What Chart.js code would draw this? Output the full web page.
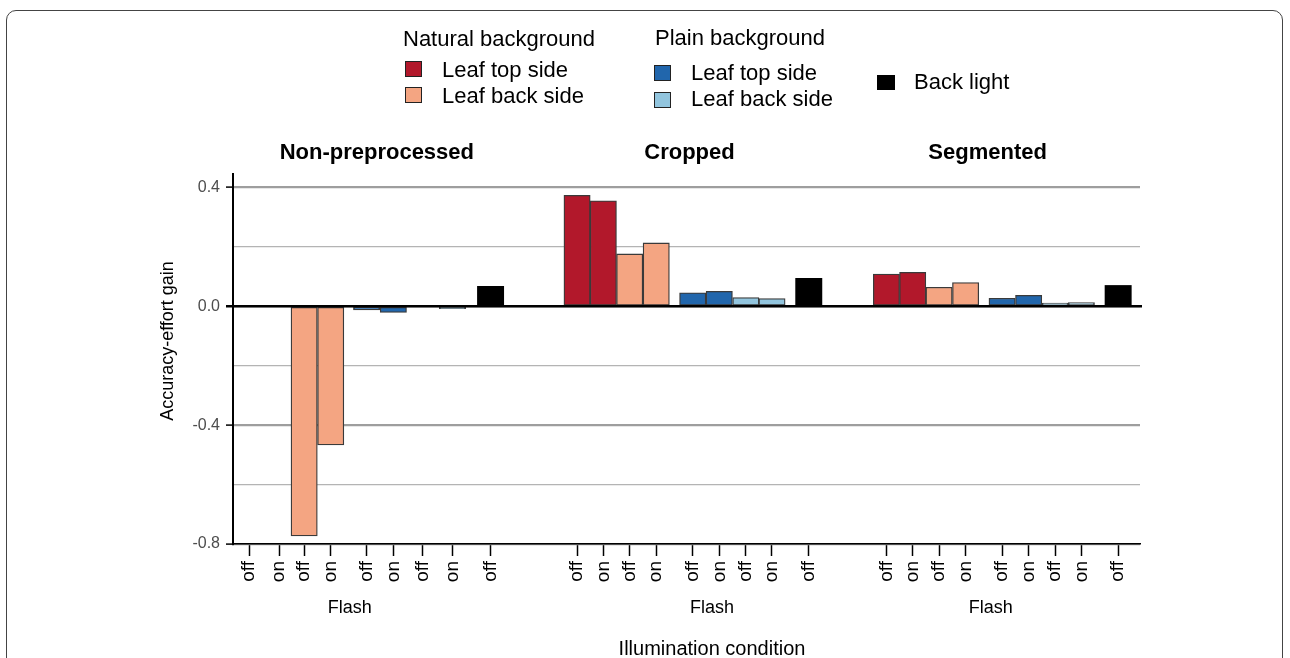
<!DOCTYPE html>
<html>
<head>
<meta charset="utf-8">
<script src="https://cdn.jsdelivr.net/npm/chart.js@4/dist/chart.umd.min.js"></script>
<style>
  html, body { margin: 0; padding: 0; background: #fff; }
  body { width: 1290px; height: 658px; overflow: hidden; position: relative;
         font-family: 'Liberation Sans', Arial, Helvetica, sans-serif; color: #000; }
  #frame { position: absolute; left: 6px; top: 10px; width: 1277px; height: 720px;
           border: 1.5px solid #444; border-radius: 10px; box-sizing: border-box; }
  #c { position: absolute; left: 0; top: 0; }
  .lg { position: absolute; font-size: 22px; line-height: 1; white-space: nowrap; }
  .sq { position: absolute; width: 15px; height: 14px; border: 1.6px solid #222; }
</style>
</head>
<body>
<div id="frame"></div>
<canvas id="c" width="1290" height="658"></canvas>
<div id="legend"></div>
<script>
// ---- data ----
const panels = ["Non-preprocessed", "Cropped", "Segmented"];
const flashLabels = ["off", "on", "off", "on", "off", "on", "off", "on", "off"];
const yTickValues = [-0.8, -0.6, -0.4, -0.2, 0.0, 0.2, 0.4];
// values per panel: [off, on] for each panel in order
const naturalTop  = [null, null, 0.373, 0.355, 0.108, 0.114];
const naturalBack = [-0.773, -0.467, 0.176, 0.213, 0.064, 0.080];
const plainTop    = [-0.012, -0.021, 0.045, 0.050, 0.027, 0.037];
const plainBack   = [null, -0.008, 0.029, 0.026, 0.011, 0.012];
const backLight   = [0.067, 0.094, 0.070];
const legendGroups = ["Natural background", "Plain background"];
const seriesNames = ["Leaf top side", "Leaf back side", "Leaf top side", "Leaf back side", "Back light"];

// ---- layout (x in plot-width units) ----
const slotPos = [
  [16, 46, 71, 97.5, 133.3, 160, 189, 219, 257],
  [343.3, 369.5, 395.8, 422.3, 458.7, 485.2, 511.7, 537.8, 574.5],
  [652, 678.2, 704.5, 731, 767.4, 793.9, 820.4, 846.5, 883.2]
];
const panelTitlePos = [143.5, 455.5, 753];
const flashPos = [116.5, 478, 756];
const colors = ["#b2182b", "#f4a582", "#2166ac", "#92c5de", "#000000"];
const FONT = "'Liberation Sans', Arial, Helvetica, sans-serif";

function buildSeries(vals, slotOffset, twoWay) {
  const out = [];
  panels.forEach((p, pi) => {
    if (twoWay) {
      for (let f = 0; f < 2; f++) {
        const v = vals[pi * 2 + f];
        if (v !== null) out.push({ x: slotPos[pi][slotOffset + f], y: v });
      }
    } else {
      const v = vals[pi];
      if (v !== null) out.push({ x: slotPos[pi][slotOffset], y: v });
    }
  });
  return out;
}

const seriesDefs = [
  [naturalTop, 0, true], [naturalBack, 2, true], [plainTop, 4, true], [plainBack, 6, true], [backLight, 8, false]
];
const datasets = seriesDefs.map((d, i) => ({
  label: seriesNames[i],
  data: buildSeries(d[0], d[1], d[2]),
  backgroundColor: colors[i],
  borderColor: i === 4 ? "#000" : "#3a3a3a",
  borderWidth: i === 4 ? 0 : 1.3,
  borderSkipped: false,
  barThickness: 26.3,
  grouped: false
}));

const allTicks = [];
slotPos.forEach((arr) => arr.forEach((v, i) => allTicks.push({ value: v, label: flashLabels[i] })));

const isMajor = (v) => Math.abs(Math.round(v * 10)) % 4 === 0;

const textPlugin = {
  id: "texts",
  afterDatasetsDraw(chart) {
    const { ctx, chartArea } = chart;
    const ys = chart.scales.y;
    const y0 = ys.getPixelForValue(0);
    ctx.save();
    ctx.strokeStyle = "#000";
    ctx.lineWidth = 2.6;
    ctx.beginPath();
    ctx.moveTo(chartArea.left - 7, y0);
    ctx.lineTo(chartArea.right + 2, y0);
    ctx.stroke();
    ctx.restore();
  },
  afterDraw(chart) {
    const { ctx } = chart;
    const xs = chart.scales.x;
    ctx.save();
    ctx.fillStyle = "#000";
    ctx.textAlign = "center";
    ctx.textBaseline = "middle";
    ctx.font = "bold 22px " + FONT;
    panels.forEach((p, i) => ctx.fillText(p, xs.getPixelForValue(panelTitlePos[i]), 153));
    ctx.font = "18px " + FONT;
    flashPos.forEach((v) => ctx.fillText("Flash", xs.getPixelForValue(v), 608));
    ctx.font = "20px " + FONT;
    ctx.fillText("Illumination condition", 712, 649);
    ctx.save();
    ctx.translate(168, 341);
    ctx.rotate(-Math.PI / 2);
    ctx.font = "18px " + FONT;
    ctx.fillText("Accuracy-effort gain", 0, 0);
    ctx.restore();
    ctx.restore();
  }
};

new Chart(document.getElementById("c"), {
  type: "bar",
  data: { datasets },
  options: {
    responsive: false,
    devicePixelRatio: 1,
    animation: false,
    layout: { padding: { top: 174, right: 150, left: 0, bottom: 0 } },
    plugins: { legend: { display: false }, tooltip: { enabled: false }, title: { display: false } },
    scales: {
      x: {
        type: "linear",
        min: 0,
        max: 905,
        offset: false,
        afterBuildTicks: (s) => { s.ticks = allTicks.map((t) => ({ value: t.value })); },
        afterFit: (s) => { s.height = 114; },
        ticks: {
          autoSkip: false,
          minRotation: 90,
          maxRotation: 90,
          padding: 5,
          color: "#000",
          font: { family: FONT, size: 19 },
          callback: (v, i) => allTicks[i] ? allTicks[i].label : ""
        },
        grid: { display: true, offset: false, drawOnChartArea: false, drawTicks: true, tickLength: 12, tickColor: "#000", tickWidth: 1.5 },
        border: { display: true, color: "#000", width: 1.6 }
      },
      y: {
        type: "linear",
        min: -0.8,
        max: 0.445,
        afterBuildTicks: (s) => { s.ticks = yTickValues.map((v) => ({ value: v })); },
        afterFit: (s) => { s.width = 233; },
        ticks: {
          padding: 6,
          color: "#4d4d4d",
          font: { family: FONT, size: 16 },
          callback: (v) => isMajor(v) ? v.toFixed(1) : ""
        },
        grid: {
          drawTicks: true,
          tickLength: 7,
          color: (c) => isMajor(c.tick.value) ? "#9e9e9e" : "#b4b4b4",
          lineWidth: (c) => isMajor(c.tick.value) ? 2.2 : 1.2,
          tickColor: (c) => isMajor(c.tick.value) ? "#000" : "rgba(0,0,0,0)",
          tickWidth: 1.5
        },
        border: { display: true, color: "#000", width: 2 }
      }
    }
  },
  plugins: [textPlugin]
});

// ---- legend (HTML) ----
const lg = document.getElementById("legend");
function addText(txt, left, cy) {
  const d = document.createElement("div");
  d.className = "lg"; d.textContent = txt;
  d.style.left = left + "px"; d.style.top = (cy - 11) + "px";
  lg.appendChild(d);
}
function addSq(color, left, top, noBorder) {
  const d = document.createElement("div");
  d.className = "sq"; d.style.background = color;
  d.style.left = left + "px"; d.style.top = top + "px";
  if (noBorder) { d.style.border = "none"; d.style.width = "18px"; d.style.height = "15px"; }
  lg.appendChild(d);
}
addText(legendGroups[0], 403, 39);
addSq(colors[0], 405, 61); addText(seriesNames[0], 442, 70);
addSq(colors[1], 405, 87); addText(seriesNames[1], 442, 96);
addText(legendGroups[1], 655, 38);
addSq(colors[2], 654, 65); addText(seriesNames[2], 691, 73);
addSq(colors[3], 654, 92); addText(seriesNames[3], 691, 99);
addSq(colors[4], 877, 75, true); addText(seriesNames[4], 914, 82);
</script>
</body>
</html>
